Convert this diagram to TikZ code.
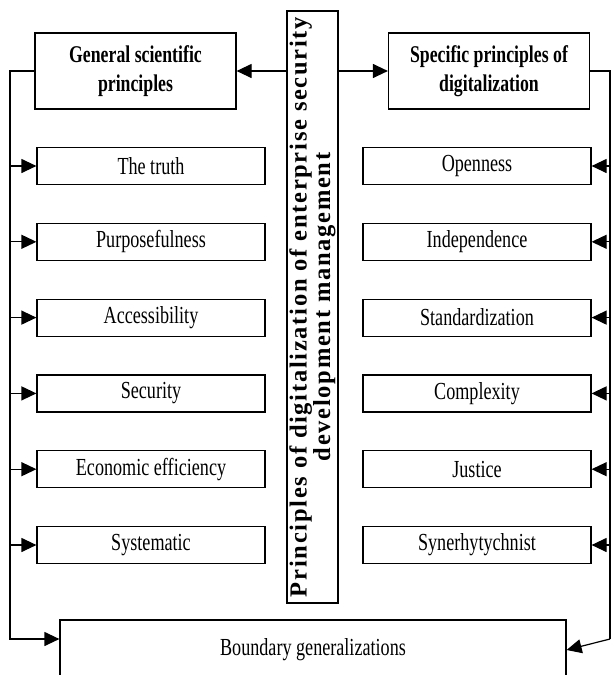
\documentclass[tikz,border=0pt]{standalone}
\usepackage{fontspec}
\setmainfont[FakeStretch=0.74]{Liberation Serif}
\newfontfamily\spacedfont[LetterSpace=7]{Liberation Serif}
\usetikzlibrary{arrows.meta}
\usetikzlibrary{positioning}
\tikzset{
  principle/.style={draw,line width=1.2pt,minimum width=228pt,minimum height=37pt,
                    inner sep=0pt,font=\fontsize{24.5}{27}\selectfont},
  heading/.style={draw,line width=1.2pt,minimum width=201pt,minimum height=76pt,
                  inner sep=0pt,align=center,font=\fontsize{24}{29}\selectfont\bfseries},
  link/.style={line width=1.2pt,-{Triangle[length=15pt,width=14pt]}},
}

\begin{document}
\begin{tikzpicture}[x=1pt,y=-1pt]
  \useasboundingbox (0,0) rectangle (611,675);
  \clip (0,0) rectangle (611,675);

  \node (cent) [draw,line width=1.2pt,rotate=90,minimum width=592pt,minimum height=51pt,
     inner sep=0pt,align=center,font=\spacedfont\bfseries\fontsize{24.5}{21}\selectfont]
     at (312.5,307) {Principles of digitalization of enterprise security\\development management};

  \node (gen)  [heading] at (135.5,71) {General scientific\\principles};
  \node (spec) [heading] at (489,71)   {Specific principles of\\digitalization};

  \foreach \txt [count=\i] in {The truth,Purposefulness,Accessibility,Security,Economic efficiency,Systematic}
    \node (g\i) [principle] at (151,{166+75.8*(\i-1)}) {\txt};
  \foreach \txt [count=\i] in {Openness,Independence,Standardization,Complexity,Justice,Synerhytychnist}
    \node (s\i) [principle] at (477,{166+75.8*(\i-1)}) {\txt};

  \node (bound) [draw,line width=1.2pt,minimum width=506pt,minimum height=60pt,
     font=\fontsize{24.5}{27}\selectfont] at (313,650) {Boundary generalizations};

  \coordinate (lft) at (10,71);
  \coordinate (rgt) at (610,71);
  \coordinate (rbot) at (610,639);

  \draw [link] (cent.north |- gen) -- (gen.east);
  \draw [link] (cent.south |- spec) -- (spec.west);

  \draw [link] (gen.west) -- (lft) |- ([yshift=11pt]bound.west);
  \draw [line width=1.2pt] (spec.east) -- (rgt) -- (rbot);
  \draw [link] (rbot) -- (bound.east);

  \foreach \i in {1,...,6} {
    \draw [link] (lft |- g\i) -- (g\i.west);
    \draw [link] (rgt |- s\i) -- (s\i.east);
  }
\end{tikzpicture}
\end{document}
